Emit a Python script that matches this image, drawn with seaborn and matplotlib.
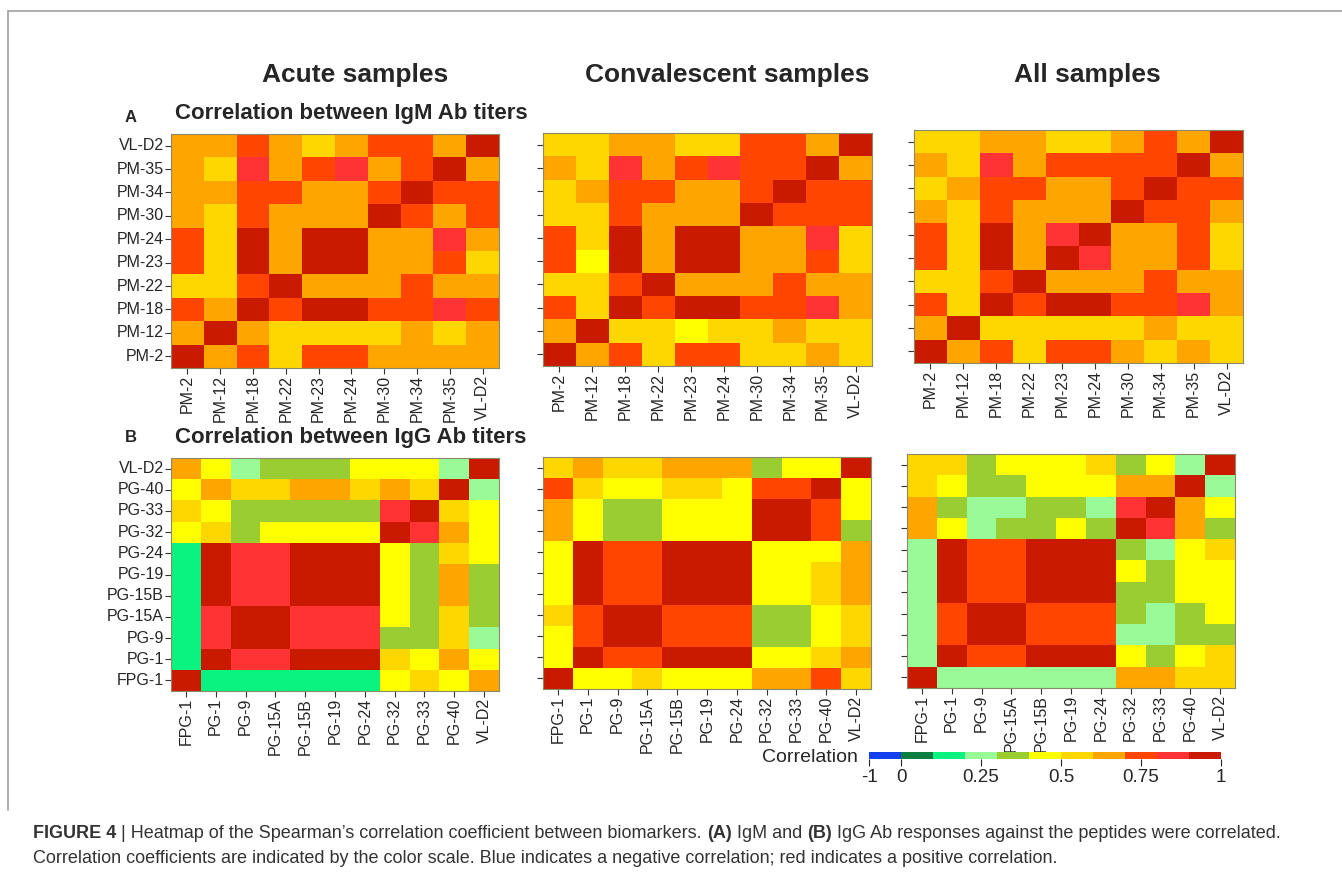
import numpy as np
import pandas as pd
import matplotlib
matplotlib.use("Agg")
import matplotlib.pyplot as plt
import seaborn as sns
from matplotlib.colors import ListedColormap, BoundaryNorm
from matplotlib.lines import Line2D

sns.set_style("white")
plt.rcParams['font.family'] = ['Liberation Sans', 'DejaVu Sans']

# colour scale (11 bins)
bounds = [-1, 0, 0.1, 0.2, 0.3, 0.4, 0.5, 0.6, 0.7, 0.8, 0.9, 1.0]
bin_colors = ["#1440f0", "#0a7f3f", "#0af27f", "#98fb98", "#9acd32", "#ffff00",
              "#ffd700", "#ffa500", "#ff4500", "#ff3333", "#c91a00"]
cbar_ticks = [-1, 0, 0.25, 0.5, 0.75, 1]
cbar_ticklabels = ["-1", "0", "0.25", "0.5", "0.75", "1"]

igm_labels = ["PM-2", "PM-12", "PM-18", "PM-22", "PM-23", "PM-24", "PM-30", "PM-34", "PM-35", "VL-D2"]
igg_labels = ["FPG-1", "PG-1", "PG-9", "PG-15A", "PG-15B", "PG-19", "PG-24", "PG-32", "PG-33", "PG-40", "VL-D2"]

# rows listed top -> bottom (VL-D2 first), columns left -> right
igm_acute = [
    [.65, .65, .75, .65, .55, .65, .75, .75, .65, .95],
    [.65, .55, .85, .65, .75, .85, .65, .75, .95, .65],
    [.65, .65, .75, .75, .65, .65, .75, .95, .75, .75],
    [.65, .55, .75, .65, .65, .65, .95, .75, .65, .75],
    [.75, .55, .95, .65, .95, .95, .65, .65, .85, .65],
    [.75, .55, .95, .65, .95, .95, .65, .65, .75, .55],
    [.55, .55, .75, .95, .65, .65, .65, .75, .65, .65],
    [.75, .65, .95, .75, .95, .95, .75, .75, .85, .75],
    [.65, .95, .65, .55, .55, .55, .55, .65, .55, .65],
    [.95, .65, .75, .55, .75, .75, .65, .65, .65, .65],
]
igm_conv = [
    [.55, .55, .65, .65, .55, .55, .75, .75, .65, .95],
    [.65, .55, .85, .65, .75, .85, .75, .75, .95, .65],
    [.55, .65, .75, .75, .65, .65, .75, .95, .75, .75],
    [.55, .55, .75, .65, .65, .65, .95, .75, .75, .75],
    [.75, .55, .95, .65, .95, .95, .65, .65, .85, .55],
    [.75, .45, .95, .65, .95, .95, .65, .65, .75, .55],
    [.55, .55, .75, .95, .65, .65, .65, .75, .65, .65],
    [.75, .55, .95, .75, .95, .95, .75, .75, .85, .65],
    [.65, .95, .55, .55, .45, .55, .55, .65, .55, .55],
    [.95, .65, .75, .55, .75, .75, .55, .55, .65, .55],
]
igm_all = [
    [.55, .55, .65, .65, .55, .55, .65, .75, .65, .95],
    [.65, .55, .85, .65, .75, .75, .75, .75, .95, .65],
    [.55, .65, .75, .75, .65, .65, .75, .95, .75, .75],
    [.65, .55, .75, .65, .65, .65, .95, .75, .75, .65],
    [.75, .55, .95, .65, .85, .95, .65, .65, .75, .55],
    [.75, .55, .95, .65, .95, .85, .65, .65, .75, .55],
    [.55, .55, .75, .95, .65, .65, .65, .75, .65, .65],
    [.75, .55, .95, .75, .95, .95, .75, .75, .85, .65],
    [.65, .95, .55, .55, .55, .55, .55, .65, .55, .55],
    [.95, .65, .75, .55, .75, .75, .65, .55, .65, .55],
]
igg_acute = [
    [.65, .45, .25, .35, .35, .35, .45, .45, .45, .25, .95],
    [.45, .65, .55, .55, .65, .65, .55, .65, .55, .95, .25],
    [.55, .45, .35, .35, .35, .35, .35, .85, .95, .55, .45],
    [.45, .55, .35, .45, .45, .45, .45, .95, .85, .65, .45],
    [.15, .95, .85, .85, .95, .95, .95, .45, .35, .55, .45],
    [.15, .95, .85, .85, .95, .95, .95, .45, .35, .65, .35],
    [.15, .95, .85, .85, .95, .95, .95, .45, .35, .65, .35],
    [.15, .85, .95, .95, .85, .85, .85, .45, .35, .55, .35],
    [.15, .85, .95, .95, .85, .85, .85, .35, .35, .55, .25],
    [.15, .95, .85, .85, .95, .95, .95, .55, .45, .65, .45],
    [.95, .15, .15, .15, .15, .15, .15, .45, .55, .45, .65],
]
igg_conv = [
    [.55, .65, .55, .55, .65, .65, .65, .35, .45, .45, .95],
    [.75, .55, .45, .45, .55, .55, .45, .75, .75, .95, .45],
    [.65, .45, .35, .35, .45, .45, .45, .95, .95, .75, .45],
    [.65, .45, .35, .35, .45, .45, .45, .95, .95, .75, .35],
    [.45, .95, .75, .75, .95, .95, .95, .45, .45, .45, .65],
    [.45, .95, .75, .75, .95, .95, .95, .45, .45, .55, .65],
    [.45, .95, .75, .75, .95, .95, .95, .45, .45, .55, .65],
    [.55, .75, .95, .95, .75, .75, .75, .35, .35, .45, .55],
    [.45, .75, .95, .95, .75, .75, .75, .35, .35, .45, .55],
    [.45, .95, .75, .75, .95, .95, .95, .45, .45, .55, .65],
    [.95, .45, .45, .55, .45, .45, .45, .65, .65, .75, .55],
]
igg_all = [
    [.55, .55, .35, .45, .45, .45, .55, .35, .45, .25, .95],
    [.55, .45, .35, .35, .45, .45, .45, .65, .65, .95, .25],
    [.65, .35, .25, .25, .35, .35, .25, .85, .95, .65, .45],
    [.65, .45, .25, .35, .35, .45, .35, .95, .85, .65, .35],
    [.25, .95, .75, .75, .95, .95, .95, .35, .25, .45, .55],
    [.25, .95, .75, .75, .95, .95, .95, .45, .35, .45, .45],
    [.25, .95, .75, .75, .95, .95, .95, .35, .35, .45, .45],
    [.25, .75, .95, .95, .75, .75, .75, .35, .25, .35, .45],
    [.25, .75, .95, .95, .75, .75, .75, .25, .25, .35, .35],
    [.25, .95, .75, .75, .95, .95, .95, .45, .35, .45, .55],
    [.95, .25, .25, .25, .25, .25, .25, .65, .65, .55, .55],
]

W, H = 1342, 872
fig = plt.figure(figsize=(W / 100, H / 100), dpi=100)
cmap = ListedColormap(bin_colors)
norm = BoundaryNorm(bounds, cmap.N)


def px_axes(x0, y0, x1, y1):
    return fig.add_axes([x0 / W, 1 - y1 / H, (x1 - x0) / W, (y1 - y0) / H])


def draw(mat, labels, box, show_ylabels):
    ax = px_axes(*box)
    df = pd.DataFrame(mat, index=labels[::-1], columns=labels)
    sns.heatmap(df, ax=ax, cmap=cmap, norm=norm, cbar=False)
    ax.tick_params(axis="both", length=4, width=0.8, color="#333333",
                   left=True, bottom=True, labelsize=11.5, pad=1)
    ax.set_xticklabels(labels, rotation=90)
    if show_ylabels:
        ax.set_yticklabels(labels[::-1], rotation=0)
    else:
        ax.set_yticklabels([])
    for sp in ax.spines.values():
        sp.set_visible(True)
        sp.set_color("#8a8a6a")
        sp.set_linewidth(0.8)
    return ax


draw(igm_acute, igm_labels, (171, 134, 499, 368), True)
draw(igm_conv, igm_labels, (543, 133, 872, 366), False)
draw(igm_all, igm_labels, (914, 130, 1243, 363), False)
draw(igg_acute, igg_labels, (171, 458, 499, 691), True)
draw(igg_conv, igg_labels, (543, 457, 871, 689), False)
draw(igg_all, igg_labels, (907, 454, 1235, 688), False)

# colour bar
cax = px_axes(869, 752, 1221, 759)
sm = plt.cm.ScalarMappable(cmap=cmap, norm=norm)
cb = fig.colorbar(sm, cax=cax, orientation="horizontal", spacing="uniform",
                  boundaries=bounds, ticks=cbar_ticks)
cb.set_ticklabels(cbar_ticklabels)
cb.minorticks_off()
cb.outline.set_visible(False)
cax.tick_params(labelsize=13.5, length=5, width=0.8, pad=2)
fig.text(858 / W, 1 - 757 / H, "Correlation", ha="right", va="center", fontsize=14)

# titles
for x, t in [(355, "Acute samples"), (727, "Convalescent samples"), (1087, "All samples")]:
    fig.text(x / W, 1 - 75 / H, t, ha="center", va="center", fontsize=19, fontweight="bold")
fig.text(131 / W, 1 - 117 / H, "A", ha="center", va="center", fontsize=12, fontweight="bold")
fig.text(175 / W, 1 - 113 / H, "Correlation between IgM Ab titers", ha="left", va="center",
         fontsize=16, fontweight="bold")
fig.text(131 / W, 1 - 437 / H, "B", ha="center", va="center", fontsize=12, fontweight="bold")
fig.text(175 / W, 1 - 437 / H, "Correlation between IgG Ab titers", ha="left", va="center",
         fontsize=16, fontweight="bold")

# frame lines
fig.add_artist(Line2D([8 / W, 1], [1 - 11 / H, 1 - 11 / H], color="#a0a0a0", lw=1.2))
fig.add_artist(Line2D([8 / W, 8 / W], [1 - 11 / H, 1 - 810 / H], color="#a0a0a0", lw=1.2))

# caption with bold fragments
renderer = fig.canvas.get_renderer()


def rich_line(x, y, parts):
    xf = x / W
    for s, w in parts:
        t = fig.text(xf, 1 - y / H, s, fontsize=13, fontweight=w, color="#333333",
                     ha="left", va="baseline")
        bb = t.get_window_extent(renderer)
        xf = bb.x1 / W


rich_line(33, 838, [("FIGURE 4", "bold"),
                    (" | Heatmap of the Spearman\u2019s correlation coefficient between biomarkers. ", "normal"),
                    ("(A)", "bold"), (" IgM and ", "normal"), ("(B)", "bold"),
                    (" IgG Ab responses against the peptides were correlated.", "normal")])
rich_line(33, 863, [("Correlation coefficients are indicated by the color scale. Blue indicates a negative "
                     "correlation; red indicates a positive correlation.", "normal")])

fig.savefig("out.png", dpi=100)
